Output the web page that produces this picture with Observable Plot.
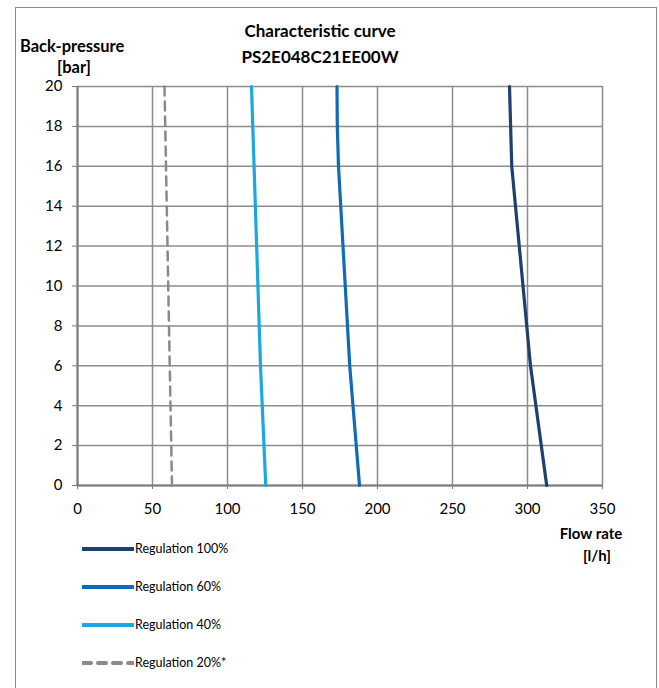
<!DOCTYPE html>
<html>
<head>
<meta charset="utf-8">
<script src="https://cdn.jsdelivr.net/npm/d3@7"></script>
<script src="https://cdn.jsdelivr.net/npm/@observablehq/plot@0.6"></script>
<style>
  html, body { margin: 0; padding: 0; background: #fff; }
  #wrap { position: relative; width: 659px; height: 688px; font-family: Lato, "Open Sans", sans-serif; color: #000; overflow: hidden; }
  #frame { position: absolute; left: 15px; top: 7px; width: 642px; height: 700px; border: 1.5px solid #8a8a8a; box-sizing: border-box; }
  #chart { position: absolute; left: 0; top: 0; }
  .t { position: absolute; white-space: nowrap; }
  .title { font-weight: bold; font-size: 17px; text-align: center; width: 300px; left: 170px; }
  .ylab { font-weight: bold; font-size: 16.5px; }
  .xlab { font-weight: bold; font-size: 15px; text-align: center; width: 80px; }
  .leg { position: absolute; left: 82px; display: flex; align-items: center; font-size: 12.5px; }
  .leg svg { margin-right: 1px; }
</style>
</head>
<body>
<div id="wrap">
  <div id="frame"></div>
  <div id="chart"></div>
  <div class="t title" style="top:20px">Characteristic curve</div>
  <div class="t title" style="top:46px">PS2E048C21EE00W</div>
  <div class="t ylab" style="left:20px; top:36px">Back-pressure</div>
  <div class="t ylab" style="left:57px; top:57px">[bar]</div>
  <div class="t xlab" style="left:551px; top:524px">Flow rate</div>
  <div class="t xlab" style="left:557px; top:546px">[l/h]</div>
  <div id="legend"></div>
</div>
<script>
const seriesNames = ["Regulation 100%", "Regulation 60%", "Regulation 40%", "Regulation 20%*"];
const seriesColors = ["#1f3f6e", "#116bb4", "#1ba8e2", "#8a8a8a"];

const pressure100 = [0, 6, 16, 20];
const flow100 = [312.8, 302, 289.5, 288];
const pressure60 = [0, 6, 16, 18, 20];
const flow60 = [188, 181.5, 174, 173.2, 173];
const pressure40 = [0, 6, 20];
const flow40 = [125.5, 122, 116];
const pressure20 = [0, 20];
const flow20 = [63, 58];

const xTicks = [0, 50, 100, 150, 200, 250, 300, 350];
const yTicks = [0, 2, 4, 6, 8, 10, 12, 14, 16, 18, 20];

const solid = [];
[[pressure100, flow100, 0], [pressure60, flow60, 1], [pressure40, flow40, 2]].forEach(([p, f, i]) => {
  p.forEach((v, k) => solid.push({series: seriesNames[i], pressure: v, flow: f[k]}));
});
const dashed = pressure20.map((v, k) => ({series: seriesNames[3], pressure: v, flow: flow20[k]}));

const chart = Plot.plot({
  width: 659,
  height: 530,
  marginLeft: 77,
  marginRight: 57,
  marginTop: 86,
  marginBottom: 45,
  style: {fontFamily: "Lato, 'Open Sans', sans-serif", fontSize: "15px", color: "#000", background: "transparent"},
  x: {domain: [0, 350], ticks: xTicks, label: null},
  y: {domain: [0, 20], ticks: yTicks, label: null},
  color: {domain: seriesNames, range: seriesColors},
  marks: [
    Plot.gridX(xTicks, {stroke: "#8c8c8c", strokeOpacity: 1, strokeWidth: 1.5}),
    Plot.gridY(yTicks, {stroke: "#8c8c8c", strokeOpacity: 1, strokeWidth: 1.5}),
    Plot.axisX({ticks: xTicks, tickSize: 4, tickPadding: 14, stroke: "#7a7a7a", fontSize: 15, fill: "#000"}),
    Plot.axisY({ticks: yTicks, tickSize: 5, tickPadding: 10, stroke: "#7a7a7a", fontSize: 15, fill: "#000"}),
    Plot.ruleX([0], {stroke: "#7a7a7a", strokeWidth: 2}),
    Plot.ruleY([0], {stroke: "#7a7a7a", strokeWidth: 2}),
    Plot.line(dashed, {x: "flow", y: "pressure", z: "series", stroke: "series", strokeWidth: 2.5, strokeDasharray: "9,6"}),
    Plot.line(solid, {x: "flow", y: "pressure", z: "series", stroke: "series", strokeWidth: 3.2})
  ]
});
document.getElementById("chart").appendChild(chart);

const legendTops = [541, 579, 617, 655];
const legend = document.getElementById("legend");
seriesNames.forEach((name, i) => {
  const row = document.createElement("div");
  row.className = "leg";
  row.style.top = legendTops[i] + "px";
  const dash = i === 3 ? ' stroke-dasharray="8,7"' : '';
  row.innerHTML = `<svg width="52" height="6"><line x1="1" y1="3" x2="51" y2="3" stroke="${seriesColors[i]}" stroke-width="4" stroke-linecap="round"${dash}/></svg><span>${name}</span>`;
  legend.appendChild(row);
});
</script>
</body>
</html>
